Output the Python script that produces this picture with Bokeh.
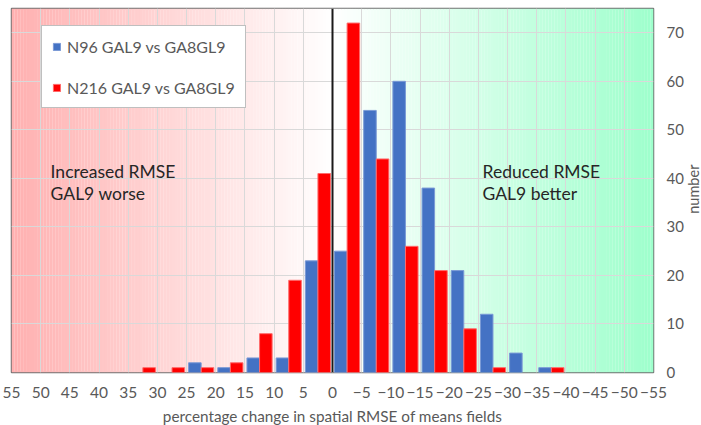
import math
from bokeh.plotting import figure
from bokeh.layouts import row, column
from bokeh.models import Range1d, FixedTicker, Legend, LegendItem, Span, Label, ColumnDataSource
from bokeh.core.properties import value
from bokeh.embed import file_html
from bokeh.resources import INLINE

# Histogram bins: percentage change in spatial RMSE (each bin 5 % wide), centres
bin_centres = [32.5, 27.5, 22.5, 17.5, 12.5, 7.5, 2.5, -2.5, -7.5, -12.5, -17.5, -22.5, -27.5, -32.5, -37.5]
n96_counts = [0, 0, 2, 1, 3, 3, 23, 25, 54, 60, 38, 21, 12, 4, 1]
n216_counts = [1, 1, 1, 2, 8, 19, 41, 72, 44, 26, 21, 9, 1, 0, 1]
x_ticks = list(range(-55, 60, 5))
y_ticks = list(range(0, 80, 10))

series_names = ["N96 GAL9 vs GA8GL9", "N216 GAL9 vs GA8GL9"]
x_title = "percentage change in spatial RMSE of means fields"
y_title = "number"
FONT = "Lato"
GREY_TEXT = "#595959"

p = figure(width=686, height=405, output_backend="svg", toolbar_location=None,
           x_range=Range1d(55, -55), y_range=Range1d(0, 75),
           y_axis_location="right",
           min_border_left=11, min_border_top=8, min_border_bottom=33, min_border_right=31)

p.background_fill_color = "white"
p.border_fill_color = "white"
p.outline_line_color = "#707070"
p.outline_line_width = 1.5

# Background shading: pink (worse) on the left fading to white at 0, green (better) on the right
left_rgb = (255, 176, 176)
right_rgb = (158, 255, 204)
step = 0.5
lefts, rights, colours = [], [], []
x = 55.0
while x > -55.0 + 1e-9:
    mid = x - step / 2
    if mid >= 0:
        f = mid / 55.0
        rgb = tuple(round(255 + (c - 255) * f) for c in left_rgb)
    else:
        f = -mid / 55.0
        rgb = tuple(round(255 + (c - 255) * f) for c in right_rgb)
    lefts.append(x)
    rights.append(x - step - 0.02)
    colours.append("#%02x%02x%02x" % rgb)
    x -= step
bg = p.quad(left=lefts, right=rights, bottom=0, top=75, fill_color=colours, line_color=None)
bg.level = "image"

# Grid
p.xgrid.ticker = FixedTicker(ticks=x_ticks)
p.ygrid.ticker = FixedTicker(ticks=y_ticks)
p.xgrid.grid_line_color = "#d9d9d9"
p.ygrid.grid_line_color = "#d9d9d9"
p.xgrid.grid_line_width = 1
p.ygrid.grid_line_width = 1

# Paired bars within each bin
bar_w = 2.15
off = 1.08
blue = ColumnDataSource(dict(x=[c + off for c, v in zip(bin_centres, n96_counts) if v > 0],
                             top=[v for v in n96_counts if v > 0]))
red = ColumnDataSource(dict(x=[c - off for c, v in zip(bin_centres, n216_counts) if v > 0],
                            top=[v for v in n216_counts if v > 0]))
r_blue = p.vbar(x="x", top="top", width=bar_w, bottom=0, source=blue,
                fill_color="#4472c4", line_color="#7b9ad6", line_width=1)
r_red = p.vbar(x="x", top="top", width=bar_w, bottom=0, source=red,
               fill_color="#ff0000", line_color="#ff6b6b", line_width=1)

# Zero line
p.add_layout(Span(location=0, dimension="height", line_color="#1a1a1a", line_width=2))

# Axes (tick labels only; titles are drawn in the side strips)
xa = p.xaxis[0]
xa.ticker = FixedTicker(ticks=x_ticks)
ya = p.yaxis[0]
ya.ticker = FixedTicker(ticks=y_ticks)
for ax in (xa, ya):
    ax.axis_line_color = None
    ax.major_tick_out = 0
    ax.major_tick_in = 0
    ax.minor_tick_out = 0
    ax.minor_tick_in = 0
    ax.major_label_text_font = FONT
    ax.major_label_text_color = GREY_TEXT
xa.major_label_text_font_size = "15.5px"
xa.major_label_standoff = 14
ya.major_label_text_font_size = "15px"
ya.major_label_standoff = 13

# Region annotations
for xpos, lines in ((48.3, ["Increased RMSE", "GAL9 worse"]), (-25.7, ["Reduced RMSE", "GAL9 better"])):
    for yv, txt in zip((41.5, 36.9), lines):
        p.add_layout(Label(x=xpos, y=yv, text=txt, text_font=FONT, text_font_size="17.5px",
                           text_color="#262626", text_baseline="middle", text_align="left"))

legend = Legend(items=[LegendItem(label=series_names[0], renderers=[r_blue]),
                       LegendItem(label=series_names[1], renderers=[r_red])],
                location=(30, 264), orientation="vertical",
                label_text_font=FONT, label_text_font_size="16px", label_text_color=GREY_TEXT,
                glyph_width=9, glyph_height=9, label_height=20, spacing=21,
                padding=10, margin=0, label_standoff=6,
                border_line_color="#7f7f7f", border_line_width=1,
                background_fill_color="white", background_fill_alpha=1.0)
p.add_layout(legend)


def strip(w, h):
    s = figure(width=w, height=h, output_backend="svg", toolbar_location=None, title=None,
               x_range=Range1d(0, w), y_range=Range1d(0, h),
               x_axis_type=None, y_axis_type=None, min_border=0)
    s.outline_line_color = None
    s.background_fill_color = "white"
    s.border_fill_color = "white"
    return s


# Vertical axis title, reading bottom to top
q = strip(15, 405)
q.text(x=[7], y=[204], text=[y_title], angle=math.pi / 2,
       text_align="center", text_baseline="middle",
       text_font=value(FONT), text_font_size="14.5px", text_color=GREY_TEXT)

# Horizontal axis title
r = strip(701, 20)
r.text(x=[332], y=[10], text=[x_title], text_align="center", text_baseline="alphabetic",
       text_font=value(FONT), text_font_size="15.3px", text_color=GREY_TEXT)

layout = column(row(p, q, spacing=0), r, spacing=0)
open("out.html", "w").write(file_html(layout, INLINE))
